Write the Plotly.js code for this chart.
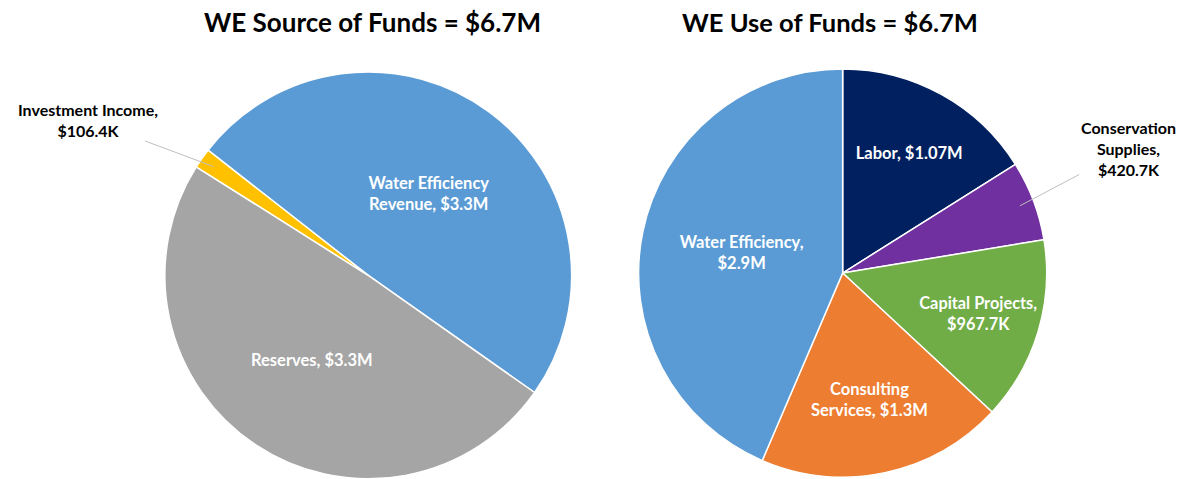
<!DOCTYPE html>
<html>
<head>
<meta charset="utf-8">
<script src="https://cdn.plot.ly/plotly-3.0.1.min.js"></script>
<style>html,body{margin:0;padding:0;background:#fff;}#chart{width:1186px;height:479px;}</style>
</head>
<body>
<div id="chart"></div>
<script>
// Source of funds (left pie)
const sourceLabels = ["Water Efficiency Revenue", "Reserves", "Investment Income"];
const sourceText = ["Water Efficiency<br>Revenue, $3.3M", "Reserves, $3.3M", ""];
const sourceValues = [3.3, 3.3, 0.1064]; // $M
const sourceColors = ["#5B9BD5", "#A5A5A5", "#FFC000"];

// Use of funds (right pie)
const useLabels = ["Labor", "Conservation Supplies", "Capital Projects", "Consulting Services", "Water Efficiency"];
const useText = ["Labor, $1.07M", "", "Capital Projects,<br>$967.7K", "Consulting<br>Services, $1.3M", "Water Efficiency,<br>$2.9M"];
const useValues = [1.07, 0.4207, 0.9677, 1.3, 2.9]; // $M
const useColors = ["#002060", "#7030A0", "#70AD47", "#ED7D31", "#5B9BD5"];

const titles = ["WE Source of Funds = $6.7M", "WE Use of Funds = $6.7M"];
const outsideLabels = ["Investment Income,<br>$106.4K", "Conservation<br>Supplies,<br>$420.7K"];

const W = 1186, H = 479;
const FONT = "Lato, 'Open Sans', sans-serif";
const leftDom = {x: [0.139, 0.482], y: [0.0, 0.85]};
const rightDom = {x: [0.538, 0.883], y: [0.004, 0.856]};
const leftRot = 308, rightRot = 0;

function common(dom, rot) {
  return {
    type: "pie", sort: false, direction: "clockwise", rotation: rot,
    domain: dom, textinfo: "text", textposition: "inside",
    insidetextorientation: "horizontal",
    insidetextfont: {family: FONT, size: 16.5, color: "#ffffff", weight: "bold"},
    hoverinfo: "label+value", showlegend: false
  };
}

const t1 = Object.assign(common(leftDom, leftRot), {
  labels: sourceLabels, values: sourceValues, text: sourceText,
  marker: {colors: sourceColors, line: {color: "#ffffff", width: 1.5}}
});
const t2 = Object.assign(common(rightDom, rightRot), {
  labels: useLabels, values: useValues, text: useText,
  marker: {colors: useColors, line: {color: "#ffffff", width: 1.5}}
});

// compute paper point on a slice (mid angle) from the data
function slicePoint(values, idx, rot, dom, rfrac) {
  const tot = values.reduce((a, b) => a + b, 0);
  let cum = 0;
  for (let i = 0; i < idx; i++) cum += values[i];
  const mid = (rot + (cum + values[idx] / 2) / tot * 360) * Math.PI / 180;
  const wpx = (dom.x[1] - dom.x[0]) * W, hpx = (dom.y[1] - dom.y[0]) * H;
  const r = Math.min(wpx, hpx) / 2 * rfrac;
  const cx = (dom.x[0] + dom.x[1]) / 2 * W, cy = (dom.y[0] + dom.y[1]) / 2 * H;
  return {x: (cx + r * Math.sin(mid)) / W, y: (cy + r * Math.cos(mid)) / H};
}

const p1 = slicePoint(sourceValues, 2, leftRot, leftDom, 0.93);
const p2 = slicePoint(useValues, 1, rightRot, rightDom, 0.93);

const annotations = [
  {text: "<b>" + titles[0] + "</b>", x: 372 / W, y: 1 - 22 / H, xref: "paper", yref: "paper",
   xanchor: "center", yanchor: "middle",
   showarrow: false, font: {family: FONT, size: 26, color: "#000000"}},
  {text: "<b>" + titles[1] + "</b>", x: 830 / W, y: 1 - 22 / H, xref: "paper", yref: "paper",
   xanchor: "center", yanchor: "middle",
   showarrow: false, font: {family: FONT, size: 25.5, color: "#000000"}},
  {text: "<b>" + outsideLabels[0] + "</b>", x: p1.x, y: p1.y, xref: "paper", yref: "paper",
   ax: -126, ay: -47, showarrow: true, arrowhead: 0, arrowwidth: 1, arrowcolor: "#BFBFBF",
   standoff: 0, align: "center", font: {family: FONT, size: 16, color: "#000000"}},
  {text: "<b>" + outsideLabels[1] + "</b>", x: p2.x, y: p2.y, xref: "paper", yref: "paper",
   ax: 108, ay: -57, showarrow: true, arrowhead: 0, arrowwidth: 1, arrowcolor: "#BFBFBF",
   standoff: 0, align: "center", font: {family: FONT, size: 16, color: "#000000"}}
];

const layout = {
  width: W, height: H, margin: {l: 0, r: 0, t: 0, b: 0},
  paper_bgcolor: "#ffffff", plot_bgcolor: "#ffffff",
  font: {family: FONT}, annotations: annotations, showlegend: false
};

Plotly.newPlot("chart", [t1, t2], layout, {displayModeBar: false, staticPlot: true});
</script>
</body>
</html>
